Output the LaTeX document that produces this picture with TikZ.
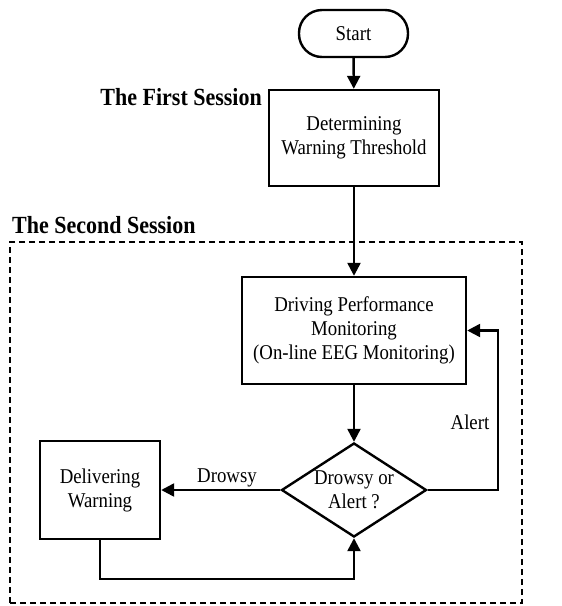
\documentclass[tikz,border=0pt]{standalone}
\usepackage{fontspec}
\usepackage{graphicx}
\setmainfont{Liberation Serif}
\usetikzlibrary{arrows.meta,shapes.geometric}
\newcommand{\vsc}[1]{\scalebox{1}[1.12]{#1}}
\begin{document}
\begin{tikzpicture}[x=1pt,y=-1pt,
  txt/.style={font=\fontsize{18.8}{24}\selectfont, align=center, inner sep=0pt},
  box/.style={txt, draw, line width=2.4pt},
  title/.style={font=\bfseries\fontsize{22}{26}\selectfont, inner sep=0pt},
  arr/.style={line width=2.4pt, -{Triangle[length=13pt,width=13pt]}}]
\useasboundingbox (0,0) rectangle (562,606);
\node[draw, line width=2.2pt, dash pattern=on 6pt off 4pt, minimum width=512pt, minimum height=361pt, inner sep=0pt] (sess2) at (266,422.5) {};
\node[box, rounded corners=23pt, minimum width=109pt, minimum height=47pt] (start) at (353.5,33.5) {\vsc{Start}};
\node[box, minimum width=170pt, minimum height=96pt] (det) at (354,138) {\vsc{Determining}\\\vsc{Warning Threshold}};
\node[box, minimum width=224pt, minimum height=107pt] (drv) at (354,330.5) {\vsc{Driving Performance}\\\vsc{Monitoring}\\\vsc{(On-line EEG Monitoring)}};
\node[diamond, draw, line width=2.4pt, minimum width=145pt, minimum height=94pt, inner sep=0pt] (dia) at (354,490) {};
\node[txt] (diatxt) at (354,490) {\vsc{Drowsy or}\\\vsc{Alert ?}};
\node[box, minimum width=120pt, minimum height=98pt] (del) at (100,490) {\vsc{Delivering}\\\vsc{Warning}};
\node[title, anchor=east] (s1) at (262,97) {\vsc{The First Session}};
\node[title, anchor=west] (s2) at (12,225) {\vsc{The Second Session}};
\node[txt] (ldrowsy) at (227,478) {\vsc{Drowsy}};
\node[txt] (lalert) at (470,422) {\vsc{Alert}};
\coordinate (ar) at (498,490);
\coordinate (bl) at (354,579);
\draw[arr] (start) -- (det);
\draw[arr] (det) -- (drv);
\draw[arr] (drv) -- (dia);
\draw[arr] (dia.west) -- (del.east);
\draw[arr] (dia.east) -- (ar) |- (drv.east);
\draw[arr] (del.south) |- (bl) -- (dia.south);
\end{tikzpicture}
\end{document}
